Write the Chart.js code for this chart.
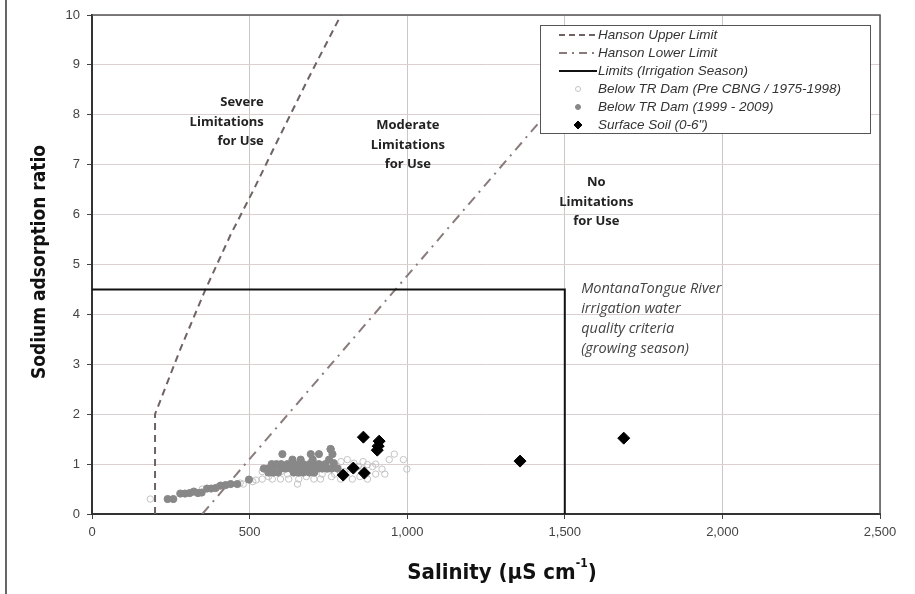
<!DOCTYPE html>
<html lang="en">
<head>
<meta charset="UTF-8">
<title>SAR vs Salinity</title>
<script src="https://cdn.jsdelivr.net/npm/chart.js"></script>
<style>
    body { margin: 0; background: #fff; }
    #wrap { width: 915px; height: 594px; }
</style>
</head>
<body>
<div id="wrap"><canvas id="sar" width="915" height="594"></canvas></div>
<script>
// Hanson limit curves (salinity, SAR)
const upperX = [200, 200, 280, 360, 440, 513, 590, 684, 790];
const upperY = [0, 2, 3.3, 4.5, 5.6, 6.5, 7.5, 8.7, 10];
const lowerX = [350, 1480];
const lowerY = [0, 8.3];
// Montana irrigation season limits
const limitX = [0, 1500, 1500];
const limitY = [4.5, 4.5, 0];

// Below TR Dam, Pre CBNG / 1975-1998 (open circles)
const preX = [185, 350, 400, 440, 480, 510, 540, 572, 598, 624, 652, 656, 680, 704, 725, 760, 789, 810, 826, 831,
              845, 860, 874, 874, 890, 929, 943, 959, 988, 999, 540, 600, 650, 700, 750, 780, 800, 820, 790, 770,
              900, 920, 560, 620, 680, 730, 860, 850, 900, 470, 520];
const preY = [0.3, 0.5, 0.55, 0.6, 0.6, 0.65, 0.7, 0.7, 0.7, 0.7, 0.6, 0.7, 0.75, 0.7, 0.7, 0.75, 0.7, 1.09, 0.7, 1.02,
              0.95, 0.9, 0.7, 0.99, 0.95, 0.8, 1.09, 1.2, 1.09, 0.9, 0.85, 0.85, 0.95, 0.85, 0.9, 0.95, 0.85, 0.9, 1.05, 0.8,
              1.0, 0.9, 0.75, 0.8, 0.85, 0.8, 1.05, 0.75, 0.8, 0.62, 0.68];

// Below TR Dam, 1999 - 2009 (filled grey circles)
const postX = [240, 258, 280, 295, 310, 323, 336, 348, 365, 378, 392, 408, 424, 440, 461, 498,
               560, 575, 590, 640, 655, 670, 690, 705,
               545, 560, 575, 600, 615, 630, 650, 665, 680, 700, 715, 730, 745, 760, 779,
               570, 585, 600, 620, 640, 655, 670, 690, 705, 720, 740, 767,
               636, 662, 700, 752, 604, 694, 720, 757, 763, 757];
const postY = [0.3, 0.3, 0.41, 0.41, 0.42, 0.45, 0.42, 0.43, 0.51, 0.51, 0.52, 0.57, 0.58, 0.6, 0.6, 0.69,
               0.83, 0.83, 0.83, 0.83, 0.83, 0.83, 0.83, 0.83,
               0.91, 0.91, 0.91, 0.91, 0.91, 0.91, 0.91, 0.91, 0.91, 0.91, 0.91, 0.91, 0.91, 0.91, 0.91,
               1.0, 1.0, 1.0, 1.0, 1.0, 1.0, 1.0, 1.0, 1.0, 1.0, 1.0, 1.02,
               1.09, 1.09, 1.09, 1.09, 1.2, 1.2, 1.2, 1.3, 1.2, 1.3];

// Surface soil (0-6")
const soilX = [861, 911, 908, 905, 797, 829, 864, 1358, 1687];
const soilY = [1.54, 1.46, 1.36, 1.28, 0.78, 0.92, 0.82, 1.06, 1.52];

const xTicks = [0, 500, 1000, 1500, 2000, 2500];
const yTicks = [0, 1, 2, 3, 4, 5, 6, 7, 8, 9, 10];

const zoneLabels = [
    { lines: ['Severe', 'Limitations', 'for Use'], x: 545, y: 8.25, align: 'right' },
    { lines: ['Moderate', 'Limitations', 'for Use'], x: 1002, y: 7.78, align: 'center' },
    { lines: ['No', 'Limitations', 'for Use'], x: 1600, y: 6.64, align: 'center' }
];
const noteLines = ['MontanaTongue River', 'irrigation water', 'quality criteria', '(growing season)'];

function pts(xs, ys) {
    return xs.map((x, i) => ({ x: x, y: ys[i] }));
}

const decor = {
    id: 'decor',
    beforeDraw(chart) {
        const c = chart.ctx;
        c.save();
        c.fillStyle = '#fff';
        c.fillRect(0, 0, chart.width, chart.height);
        c.restore();
    },
    afterDatasetsDraw(chart) {
        const c = chart.ctx;
        const a = chart.chartArea;
        const xs = chart.scales.x, ys = chart.scales.y;
        c.save();

        // top / right frame of the plot
        c.strokeStyle = '#555';
        c.lineWidth = 1.5;
        c.beginPath();
        c.moveTo(a.left, a.top);
        c.lineTo(a.right, a.top);
        c.lineTo(a.right, a.bottom);
        c.stroke();

        // zone labels
        c.fillStyle = '#222';
        c.font = 'bold 13px "Open Sans"';
        c.textBaseline = 'middle';
        zoneLabels.forEach(z => {
            c.textAlign = z.align;
            const px = xs.getPixelForValue(z.x);
            const py = ys.getPixelForValue(z.y);
            z.lines.forEach((t, i) => c.fillText(t, px, py + i * 19.5));
        });

        // criteria note
        c.fillStyle = '#444';
        c.font = 'italic 14.5px "Open Sans"';
        c.textAlign = 'left';
        const nx = xs.getPixelForValue(1552);
        const ny = ys.getPixelForValue(4.52);
        noteLines.forEach((t, i) => c.fillText(t, nx, ny + i * 20));

        // legend box
        const lx = 540, ly = 25, lw = 330, lh = 108;
        c.fillStyle = '#fff';
        c.fillRect(lx, ly, lw, lh);
        c.strokeStyle = '#555';
        c.lineWidth = 1;
        c.strokeRect(lx + 0.5, ly + 0.5, lw, lh);
        c.font = 'italic 13.5px "Liberation Sans"';
        c.textAlign = 'left';
        chart.data.datasets.forEach((ds, i) => {
            const rowY = 35 + i * 18;
            if (ds.showLine) {
                c.strokeStyle = ds.borderColor;
                c.lineWidth = ds.borderWidth;
                c.setLineDash(ds.legendDash || []);
                c.beginPath();
                c.moveTo(559, rowY);
                c.lineTo(597, rowY);
                c.stroke();
                c.setLineDash([]);
            } else {
                c.fillStyle = ds.backgroundColor;
                c.strokeStyle = ds.borderColor;
                c.lineWidth = 1;
                const r = ds.pointStyle === 'rectRot' ? 4 : 2.5;
                c.beginPath();
                if (ds.pointStyle === 'rectRot') {
                    c.moveTo(578, rowY - r); c.lineTo(578 + r, rowY);
                    c.lineTo(578, rowY + r); c.lineTo(578 - r, rowY);
                    c.closePath();
                } else {
                    c.arc(578, rowY, r, 0, Math.PI * 2);
                }
                c.fill();
                c.stroke();
            }
            c.fillStyle = '#333';
            c.fillText(ds.label, 598, rowY);
        });

        // axis titles
        c.fillStyle = '#111';
        c.font = 'bold 19px "DejaVu Sans Condensed"';
        c.textAlign = 'center';
        c.save();
        c.translate(40, 262);
        c.rotate(-Math.PI / 2);
        c.fillText('Sodium adsorption ratio', 0, 0);
        c.restore();

        const main = 'Salinity (µS cm';
        const sup = '-1';
        const tail = ')';
        c.font = 'bold 22px "DejaVu Sans Condensed"';
        const w1 = c.measureText(main).width;
        const w3 = c.measureText(tail).width;
        c.font = 'bold 12px "DejaVu Sans Condensed"';
        const w2 = c.measureText(sup).width;
        let tx = 502 - (w1 + w2 + w3) / 2;
        c.textAlign = 'left';
        c.font = 'bold 22px "DejaVu Sans Condensed"';
        c.fillText(main, tx, 573);
        c.font = 'bold 12px "DejaVu Sans Condensed"';
        c.fillText(sup, tx + w1, 564);
        c.font = 'bold 22px "DejaVu Sans Condensed"';
        c.fillText(tail, tx + w1 + w2, 573);

        // outer frame on the left
        c.strokeStyle = '#333';
        c.lineWidth = 1.5;
        c.beginPath();
        c.moveTo(6, 0);
        c.lineTo(6, chart.height);
        c.stroke();
        c.restore();
    }
};

const tickFont = { family: 'Liberation Sans', size: 13 };

new Chart(document.getElementById('sar').getContext('2d'), {
    type: 'scatter',
    data: {
        datasets: [
            {
                label: 'Hanson Upper Limit', data: pts(upperX, upperY), showLine: true, order: 5,
                borderColor: '#6f6262', borderWidth: 2, borderDash: [7, 5], legendDash: [6, 4],
                pointRadius: 0, fill: false
            },
            {
                label: 'Hanson Lower Limit', data: pts(lowerX, lowerY), showLine: true, order: 4,
                borderColor: '#8a7b7b', borderWidth: 2, borderDash: [10, 6, 2, 6], legendDash: [8, 5, 2, 5],
                pointRadius: 0, fill: false
            },
            {
                label: 'Limits (Irrigation Season)', data: pts(limitX, limitY), showLine: true, order: 3,
                borderColor: '#111', borderWidth: 2, pointRadius: 0, fill: false
            },
            {
                label: 'Below TR Dam (Pre CBNG / 1975-1998)', data: pts(preX, preY), showLine: false, order: 2,
                pointStyle: 'circle', pointRadius: 3.2, borderWidth: 1,
                borderColor: '#c4c4c4', backgroundColor: 'rgba(255,255,255,0)'
            },
            {
                label: 'Below TR Dam (1999 - 2009)', data: pts(postX, postY), showLine: false, order: 1,
                pointStyle: 'circle', pointRadius: 3.6, borderWidth: 1,
                borderColor: '#888', backgroundColor: '#888'
            },
            {
                label: 'Surface Soil (0-6")', data: pts(soilX, soilY), showLine: false, order: 0,
                pointStyle: 'rectRot', pointRadius: 6, borderWidth: 1,
                borderColor: '#000', backgroundColor: '#000'
            }
        ]
    },
    options: {
        responsive: false,
        animation: false,
        layout: { padding: { top: 15, right: 35, left: 0, bottom: 0 } },
        plugins: { legend: { display: false }, tooltip: { enabled: false } },
        scales: {
            x: {
                type: 'linear', min: 0, max: 2500,
                afterBuildTicks: s => { s.ticks = xTicks.map(v => ({ value: v })); },
                ticks: { color: '#444', font: tickFont, padding: 6, maxRotation: 0 },
                grid: { color: '#cdc6c6', tickLength: 5, tickColor: '#444' },
                border: { color: '#333', width: 2 },
                afterFit: s => { s.height = 80; }
            },
            y: {
                min: 0, max: 10,
                afterBuildTicks: s => { s.ticks = yTicks.map(v => ({ value: v })); },
                ticks: { color: '#444', font: tickFont, padding: 7 },
                grid: { color: '#dccfcf', tickLength: 5, tickColor: '#444' },
                border: { color: '#333', width: 2 },
                afterFit: s => { s.height = undefined; s.width = 92; }
            }
        }
    },
    plugins: [decor]
});
</script>
</body>
</html>
